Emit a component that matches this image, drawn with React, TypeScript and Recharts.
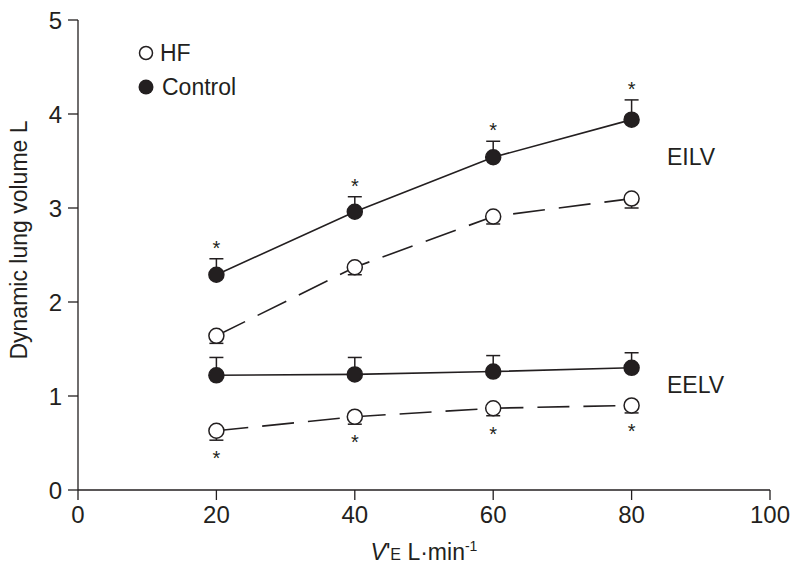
import { ComposedChart, Line, XAxis, YAxis, ErrorBar, Scatter } from 'recharts';

const ventilation = [20, 40, 60, 80];
const controlEILV = [2.29, 2.96, 3.54, 3.94];
const controlEILVErr = [0.17, 0.16, 0.17, 0.21];
const hfEILV = [1.64, 2.37, 2.91, 3.1];
const hfEILVErr = [0.08, 0.08, 0.08, 0.1];
const controlEELV = [1.22, 1.23, 1.26, 1.3];
const controlEELVErr = [0.19, 0.18, 0.17, 0.16];
const hfEELV = [0.63, 0.78, 0.87, 0.9];
const hfEELVErr = [0.1, 0.08, 0.08, 0.08];
const xTicks = [0, 20, 40, 60, 80, 100];
const yTicks = [0, 1, 2, 3, 4, 5];

const INK = '#231f20';
const FONT = '"Liberation Sans", Arial, Helvetica, sans-serif';

const data = ventilation.map((v, i) => ({
  v,
  cEILV: controlEILV[i],
  cEILVErr: [0, controlEILVErr[i]],
  hEILV: hfEILV[i],
  hEILVErr: [hfEILVErr[i], 0],
  cEELV: controlEELV[i],
  cEELVErr: [0, controlEELVErr[i]],
  hEELV: hfEELV[i],
  hEELVErr: [hfEELVErr[i], 0],
}));

// significance marks sit just past the error bar caps
const starsAbove = ventilation.map((v, i) => ({ v, y: controlEILV[i] + controlEILVErr[i] + 0.16 }));
const starsBelow = ventilation.map((v, i) => ({ v, y: hfEELV[i] - hfEELVErr[i] - 0.15 }));

const dot = (fill: string) => (p: any) => {
  if (p.cx == null || p.cy == null) return <g key={`${fill}-${p.index}`} />;
  return <circle key={`${fill}-${p.index}`} cx={p.cx} cy={p.cy} r={7.5} fill={fill} stroke={INK} strokeWidth={1.5} />;
};

const Star = (p: any) => (
  <text x={p.cx} y={p.cy + 11} textAnchor="middle" fontSize={20} fontFamily={FONT} fill={INK}>*</text>
);

function XLabel(props: any) {
  const vb = props.viewBox;
  const cx = vb.x + vb.width / 2;
  return (
    <text x={cx} y={vb.y + 70} textAnchor="middle" fontSize={23} fontFamily={FONT} fill={INK}>
      <tspan fontStyle="italic">V</tspan>
      <tspan>'</tspan>
      <tspan fontSize={16}>E</tspan>
      <tspan> L·min</tspan>
      <tspan fontSize={14} dy={-9}>-1</tspan>
    </text>
  );
}

function YLabel(props: any) {
  const vb = props.viewBox;
  const cy = vb.y + vb.height / 2 - 15;
  return (
    <text x={27} y={cy} transform={`rotate(-90 27 ${cy})`} textAnchor="middle" fontSize={23} fontFamily={FONT} fill={INK}>
      Dynamic lung volume L
    </text>
  );
}

const tickStyle = { fontSize: 24, fontFamily: FONT, fill: INK };
const lineProps = { isAnimationActive: false, strokeWidth: 1.6, stroke: INK };

export default function App() {
  return (
    <div style={{ position: 'relative', width: 800, height: 576, background: '#fff' }}>
      <style>{'body{margin:0}'}</style>
      <ComposedChart width={800} height={576} data={data} margin={{ top: 20, right: 30, bottom: 0, left: 0 }}>
        <XAxis
          dataKey="v"
          type="number"
          domain={[0, 100]}
          ticks={xTicks}
          height={86}
          tickSize={10}
          tickMargin={6}
          tick={tickStyle}
          stroke={INK}
          strokeWidth={1.3}
          label={<XLabel />}
        />
        <YAxis
          type="number"
          domain={[0, 5]}
          ticks={yTicks}
          width={78}
          tickSize={10}
          tickMargin={6}
          tick={tickStyle}
          stroke={INK}
          strokeWidth={1.3}
          label={<YLabel />}
        />
        <Line dataKey="hEILV" {...lineProps} strokeDasharray="32 14" dot={dot('#fff')}>
          <ErrorBar dataKey="hEILVErr" width={7} stroke={INK} strokeWidth={1.5} direction="y" />
        </Line>
        <Line dataKey="cEILV" {...lineProps} dot={dot(INK)}>
          <ErrorBar dataKey="cEILVErr" width={7} stroke={INK} strokeWidth={1.5} direction="y" />
        </Line>
        <Line dataKey="hEELV" {...lineProps} strokeDasharray="32 14" dot={dot('#fff')}>
          <ErrorBar dataKey="hEELVErr" width={7} stroke={INK} strokeWidth={1.5} direction="y" />
        </Line>
        <Line dataKey="cEELV" {...lineProps} dot={dot(INK)}>
          <ErrorBar dataKey="cEELVErr" width={7} stroke={INK} strokeWidth={1.5} direction="y" />
        </Line>
        <Scatter data={starsAbove} dataKey="y" shape={<Star />} isAnimationActive={false} />
        <Scatter data={starsBelow} dataKey="y" shape={<Star />} isAnimationActive={false} />
      </ComposedChart>
      <svg width={800} height={576} style={{ position: 'absolute', left: 0, top: 0, pointerEvents: 'none' }}>
        <g fontFamily={FONT} fontSize={23} fill={INK}>
          <circle cx={146} cy={53} r={6.5} fill="#fff" stroke={INK} strokeWidth={1.5} />
          <text x={160} y={61}>HF</text>
          <circle cx={146} cy={87} r={7.5} fill={INK} />
          <text x={162} y={95}>Control</text>
          <text x={667} y={165}>EILV</text>
          <text x={667} y={393}>EELV</text>
        </g>
      </svg>
    </div>
  );
}
